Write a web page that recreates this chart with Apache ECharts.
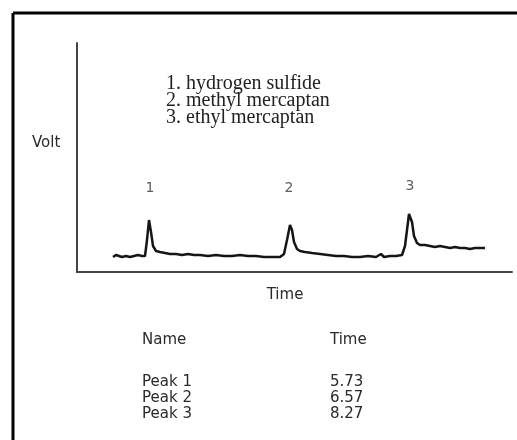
<!DOCTYPE html>
<html>
<head>
<meta charset="utf-8">
<script src="https://cdn.jsdelivr.net/npm/echarts@6/dist/echarts.min.js"></script>
<style>
html,body{margin:0;padding:0;background:#fff}
#main{width:517px;height:440px}
</style>
</head>
<body>
<div id="main"></div>
<script>
// chromatogram trace, arbitrary time / signal units
var timeX = [36,39,41,45,49,53,57,61,63,65,68,70,72,74,76,79,83,88,93,99,105,111,117,123,131,139,147,155,163,171,179,187,195,203,
  207,210,213,215,217,220,223,228,235,243,251,259,267,275,283,291,299,304,307,313,319,325,
  328,330,332,333,335,337,340,343,348,353,358,363,368,373,378,383,388,393,398,403,408];
var voltY = [15,17,15,15,16,15,16,17,19,16,16,32,52,40,26,21,20,19,18,18,17,18,17,17,16,17,16,16,17,16,16,15,15,15,
  18,32,47,42,30,23,21,20,19,18,17,16,16,15,15,16,15,18,15,16,16,17,
  26,42,58,60,50,36,29,27,27,26,25,26,25,24,25,24,24,23,24,24,24];

var peakNums = ['1', '2', '3'];
var peakX = [73, 212, 333];
var peakLabelY = [84, 84, 86];

var compounds = ['1. hydrogen sulfide', '2. methyl mercaptan', '3. ethyl mercaptan'];
var tableHead = ['Name', 'Time'];
var tableNames = ['Peak 1', 'Peak 2', 'Peak 3'];
var tableTimes = ['5.73', '6.57', '8.27'];

var myChart = echarts.init(document.getElementById('main'));

var traceData = timeX.map(function (x, i) { return [x, voltY[i]]; });
var labelData = peakX.map(function (x, i) { return [x, peakLabelY[i], peakNums[i]]; });

var sans = { fontFamily: 'DejaVu Sans', fontSize: 15, fill: '#2a2a2a' };
var graphics = [
    // frame (only top and left edges are visible)
    { type: 'line', shape: { x1: 13, y1: 13, x2: 517, y2: 13 }, style: { stroke: '#000', lineWidth: 3 } },
    { type: 'line', shape: { x1: 13, y1: 13, x2: 13, y2: 440 }, style: { stroke: '#000', lineWidth: 3 } },
    { type: 'text', x: 32, y: 143, style: Object.assign({ text: 'Volt', textVerticalAlign: 'middle' }, sans) },
    { type: 'text', x: 285, y: 295, style: Object.assign({ text: 'Time', textAlign: 'center', textVerticalAlign: 'middle' }, sans) },
    { type: 'text', x: 142, y: 340, style: Object.assign({ text: tableHead[0], textVerticalAlign: 'middle' }, sans) },
    { type: 'text', x: 330, y: 340, style: Object.assign({ text: tableHead[1], textVerticalAlign: 'middle' }, sans) }
];
compounds.forEach(function (c, i) {
    graphics.push({ type: 'text', x: 166, y: 84 + i * 17,
        style: { text: c, fontFamily: 'Liberation Serif', fontSize: 20, fill: '#222', textVerticalAlign: 'middle' } });
});
tableNames.forEach(function (n, i) {
    graphics.push({ type: 'text', x: 142, y: 382 + i * 16, style: Object.assign({ text: n, textVerticalAlign: 'middle' }, sans) });
    graphics.push({ type: 'text', x: 330, y: 382 + i * 16, style: Object.assign({ text: tableTimes[i], textVerticalAlign: 'middle' }, sans) });
});

var option = {
    animation: false,
    backgroundColor: '#fff',
    grid: { left: 77, right: 5, top: 43, bottom: 168 },
    xAxis: {
        type: 'value', min: 0, max: 435,
        axisLine: { show: true, lineStyle: { color: '#444', width: 2 } },
        axisTick: { show: false }, axisLabel: { show: false }, splitLine: { show: false }
    },
    yAxis: {
        type: 'value', min: 0, max: 229,
        axisLine: { show: true, lineStyle: { color: '#444', width: 2 } },
        axisTick: { show: false }, axisLabel: { show: false }, splitLine: { show: false }
    },
    series: [
        {
            type: 'line',
            data: traceData,
            showSymbol: false,
            lineStyle: { color: '#151515', width: 2.5 }
        },
        {
            type: 'scatter',
            data: labelData,
            symbolSize: 1,
            itemStyle: { color: 'rgba(0,0,0,0)' },
            label: {
                show: true, position: 'inside',
                formatter: function (p) { return p.data[2]; },
                fontFamily: 'DejaVu Sans', fontSize: 14, color: '#333'
            }
        }
    ],
    graphic: graphics
};

myChart.setOption(option);
</script>
</body>
</html>
